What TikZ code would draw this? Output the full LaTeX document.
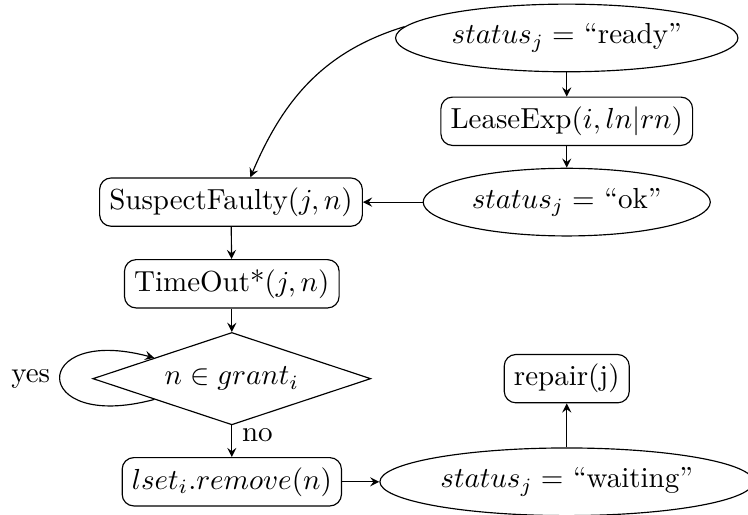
\documentclass[tikz,border=0pt]{standalone}
\usetikzlibrary{shapes.geometric}
\begin{document}
\begin{tikzpicture}[>=stealth, every loop/.style={},
    state node/.style={ellipse,draw,inner sep=0pt,minimum height=0.82cm},
    action node/.style={rectangle,rounded corners,draw},
    test node/.style={diamond,aspect=3,draw,inner sep=0pt,minimum width=3.37cm,minimum height=1.12cm}]

                \useasboundingbox (0,0) rectangle (9.067,-6.242);

                \node[state node, minimum width=4.15cm] at (6.87,-0.46) (ready) {$status_j =$ ``ready''};
                \node[action node] at (6.87,-1.47) (lease) {LeaseExp$(i, ln|rn)$};
                \node[state node, minimum width=3.48cm] at (6.87,-2.45) (ok) {$status_j =$ ``ok''};
                \node[action node] at (2.8,-2.45) (faulty) {SuspectFaulty$(j, n)$};
                \node[action node] at (2.81,-3.44) (timeout) {TimeOut*$(j, n)$};
                \node[test node] at (2.81,-4.59) (grant) {$n \in grant_i$};
                \node[action node] at (2.81,-5.84) (remove) {$lset_i.remove(n)$};
                \node[state node, minimum width=4.53cm] at (6.87,-5.84) (waiting) {$status_j =$ ``waiting''};
                \node[action node] at (6.87,-4.59) (repair) {repair(j)};

                \path[->] (ready) edge (lease);
                \path[->] (lease) edge (ok);
                \path[->] (ok) edge (faulty);
                \path[->] (ready.176) edge[out=197, in=67] (faulty.52);
                \path[->] (faulty) edge (timeout);
                \path[->] (timeout) edge (grant);
                \path[->] (grant) edge[loop left] node {yes} (grant);
                \path[->] (grant) edge node[right, pos=0.3] {no} (remove);
                \path[->] (remove) edge (waiting);
                \path[->] (waiting) edge (repair);
            \end{tikzpicture}
\end{document}
